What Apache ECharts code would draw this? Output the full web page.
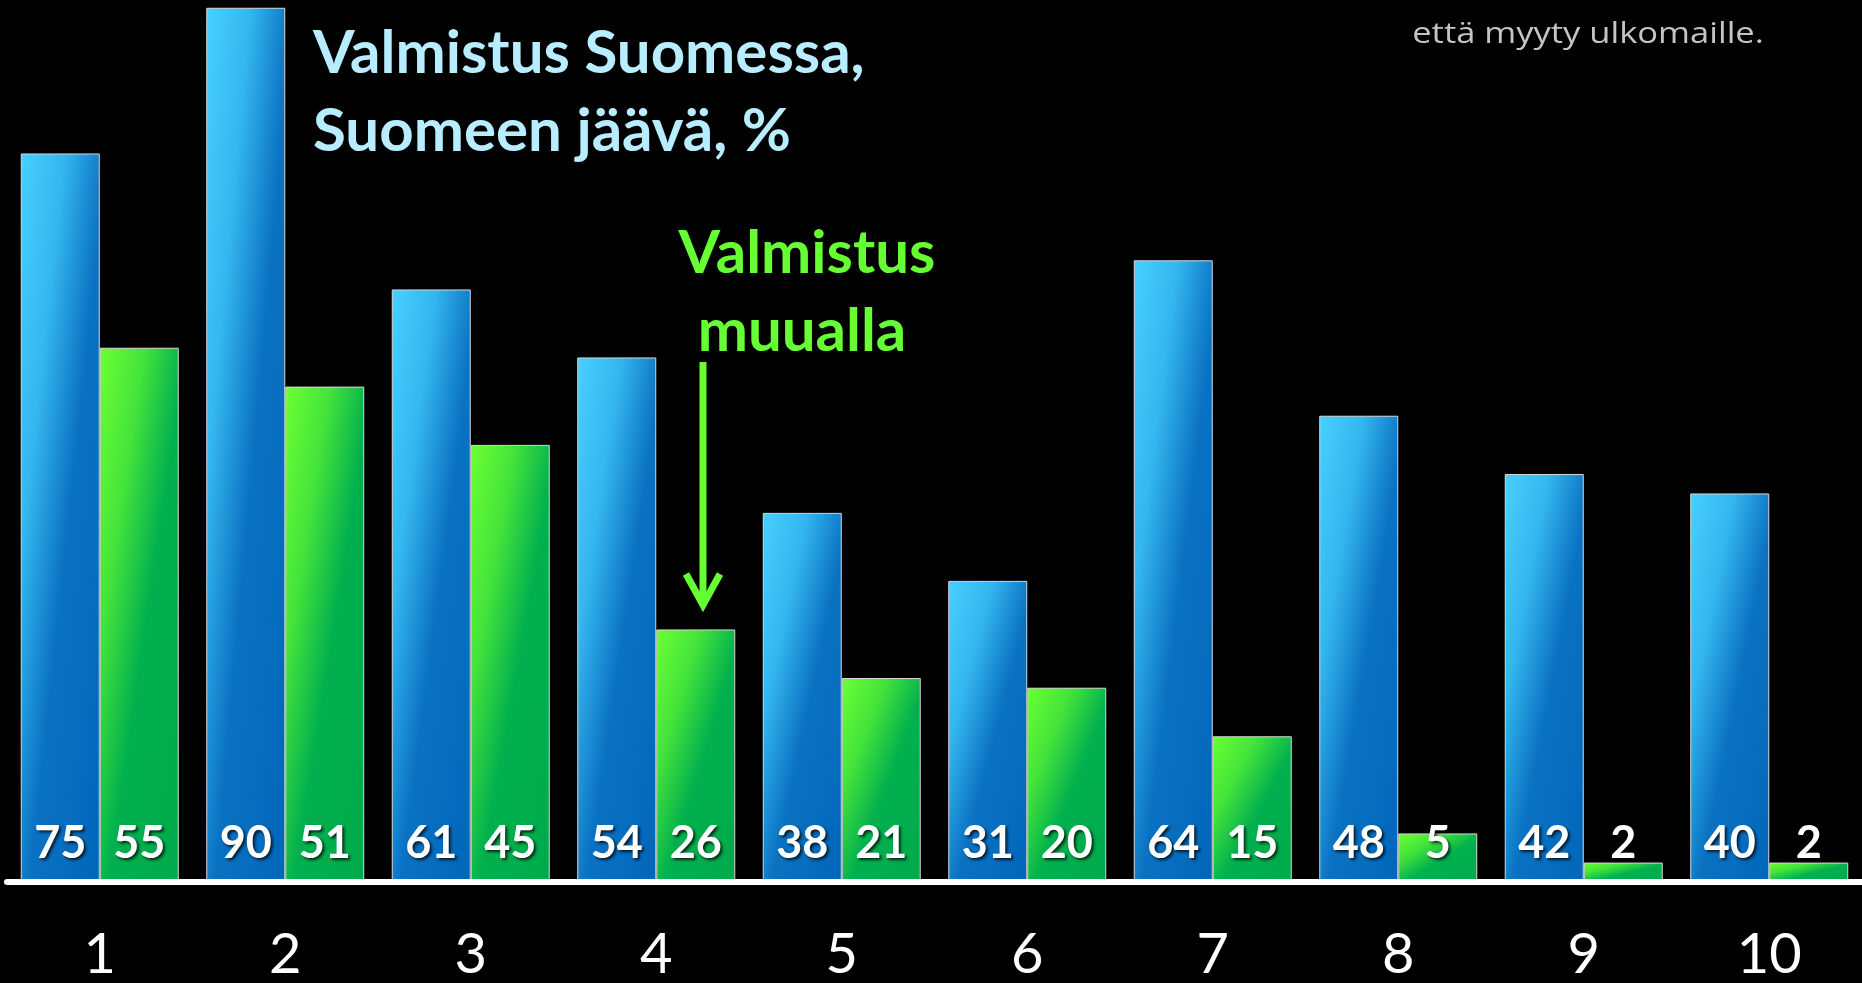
<!DOCTYPE html>
<html>
<head>
<meta charset="utf-8">
<script src="https://cdn.jsdelivr.net/npm/echarts@6/dist/echarts.min.js"></script>
<style>
html,body{margin:0;padding:0;background:#000;}
#chart{width:1862px;height:983px;}
</style>
</head>
<body>
<div id="chart"></div>
<script>
const categories = ['1','2','3','4','5','6','7','8','9','10'];
const madeInFinland = [75, 90, 61, 54, 38, 31, 64, 48, 42, 40];
const madeElsewhere = [55, 51, 45, 26, 21, 20, 15, 5, 2, 2];
const titleFinland = ['Valmistus Suomessa,', 'Suomeen jäävä, %'];
const titleElsewhere = ['Valmistus', 'muualla'];
const noteText = 'että myyty ulkomaille.';

const Y_MAX = 90.8;
const PLOT_H = 884;
const BAR_W = 79;

const blueStops = [
  {offset: 0, color: '#48D0FF'},
  {offset: 0.28, color: '#34B6EE'},
  {offset: 0.55, color: '#0A72C2'},
  {offset: 1, color: '#0066BA'}
];
const greenStops = [
  {offset: 0, color: '#6CFF33'},
  {offset: 0.28, color: '#44E43A'},
  {offset: 0.55, color: '#02B04E'},
  {offset: 1, color: '#00AA4A'}
];

// Gradient whose mid isoline runs corner to corner (top-right to bottom-left), like a shape-scaled 45° fill
function cornerGradient(value, stops) {
  const h = Math.max(value * PLOT_H / Y_MAX, 1);
  const w = BAR_W;
  const d = h * h + w * w;
  return new echarts.graphic.LinearGradient(0, 0, 2 * h * h / d, 2 * w * w / d, stops);
}

const chart = echarts.init(document.getElementById('chart'));

const valueLabel = {
  show: true,
  position: 'insideBottom',
  distance: 16,
  color: '#ffffff',
  fontFamily: 'Lato',
  fontWeight: 'bold',
  fontSize: 45,
  textShadowColor: 'rgba(0,0,0,0.75)',
  textShadowBlur: 3,
  textShadowOffsetX: 2,
  textShadowOffsetY: 2
};

const green = '#66FF33';

chart.setOption({
  backgroundColor: '#000000',
  animation: false,
  grid: {left: 7, top: 0, width: 1862, height: PLOT_H, containLabel: false},
  xAxis: {
    type: 'category',
    data: categories,
    z: 5,
    axisLine: {show: true, lineStyle: {color: '#ffffff', width: 6}},
    axisTick: {show: false},
    axisLabel: {color: '#ffffff', fontFamily: 'Lato', fontSize: 56, margin: 45}
  },
  yAxis: {type: 'value', min: 0, max: Y_MAX, show: false, splitLine: {show: false}},
  series: [
    {
      type: 'bar', barWidth: BAR_W, barGap: '0%',
      data: madeInFinland.map(v => ({value: v, itemStyle: {color: cornerGradient(v, blueStops)}})),
      itemStyle: {borderColor: '#d8d8d8', borderWidth: 1},
      label: valueLabel
    },
    {
      type: 'bar', barWidth: BAR_W, barGap: '0%',
      data: madeElsewhere.map(v => ({value: v, itemStyle: {color: cornerGradient(v, greenStops)}})),
      itemStyle: {borderColor: '#d8d8d8', borderWidth: 1},
      label: valueLabel
    }
  ],
  graphic: [
    {type: 'text', x: 313, y: 54,
     style: {text: titleFinland[0], fill: '#B8ECFF', font: 'bold 60px Lato', textAlign: 'left', textVerticalAlign: 'middle'}},
    {type: 'text', x: 313, y: 132,
     style: {text: titleFinland[1], fill: '#B8ECFF', font: 'bold 60px Lato', textAlign: 'left', textVerticalAlign: 'middle'}},
    {type: 'text', x: 807, y: 254,
     style: {text: titleElsewhere[0], fill: green, font: 'bold 60px Lato', textAlign: 'center', textVerticalAlign: 'middle'}},
    {type: 'text', x: 802, y: 332,
     style: {text: titleElsewhere[1], fill: green, font: 'bold 60px Lato', textAlign: 'center', textVerticalAlign: 'middle'}},
    {type: 'text', x: 1588, y: 34, scaleX: 1.15,
     style: {text: noteText, fill: '#C4C4C4', font: '30px "Open Sans"', textAlign: 'center', textVerticalAlign: 'middle'}},
    {type: 'line', shape: {x1: 703, y1: 362, x2: 703, y2: 604},
     style: {stroke: green, lineWidth: 7}},
    {type: 'polyline', shape: {points: [[686, 574], [703, 605], [720, 574]]},
     style: {stroke: green, lineWidth: 7, fill: null, lineJoin: 'miter'}}
  ]
});
</script>
</body>
</html>
